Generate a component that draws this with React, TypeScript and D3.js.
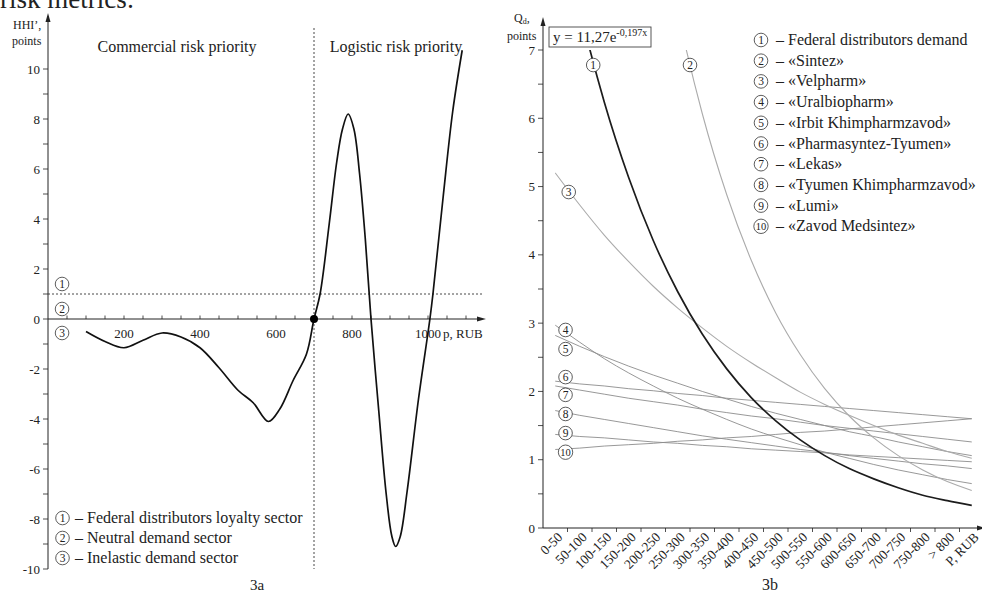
import React from 'react';
import * as d3 from 'd3';

// ---------- Panel 3a data ----------
const hhiPrice = [100, 150, 200, 250, 300, 350, 400, 450, 500, 540, 580, 610, 645, 680, 700, 716, 740, 760, 775, 790, 805, 820, 835, 850, 870, 890, 905, 915, 927, 945, 975, 1005, 1013, 1040, 1065, 1090];
const hhiValue = [-0.5, -0.9, -1.15, -0.85, -0.56, -0.72, -1.15, -1.95, -2.85, -3.35, -4.1, -3.6, -2.46, -1.41, 0, 1, 3.8, 6.3, 7.6, 8.2, 7.6, 5.8, 3.2, 0, -3.6, -7.0, -8.7, -9.1, -8.7, -6.9, -3.2, 0, 1, 4.9, 8.3, 10.75];
const leftXTickLabels = [200, 400, 600, 800, 1000];
const leftYTickLabels = [-10, -8, -6, -4, -2, 0, 2, 4, 6, 8, 10];
const sectorLabels = ['Federal distributors loyalty sector', 'Neutral demand sector', 'Inelastic demand sector'];
const sectorMarkValues = [1.4, 0.4, -0.56];
const loyaltyLevel = 1;
const breakPrice = 700;

// ---------- Panel 3b data ----------
const priceBands = ['0-50', '50-100', '100-150', '150-200', '200-250', '250-300', '300-350', '350-400', '400-450', '450-500', '500-550', '550-600', '600-650', '650-700', '700-750', '750-800', '> 800', 'P, RUB'];
const rightYTickLabels = [0, 1, 2, 3, 4, 5, 6, 7];
const seriesNames = ['Federal distributors demand', '«Sintez»', '«Velpharm»', '«Uralbiopharm»', '«Irbit Khimpharmzavod»', '«Pharmasyntez-Tyumen»', '«Lekas»', '«Tyumen Khimpharmzavod»', '«Lumi»', '«Zavod Medsintez»'];
const federalDemand = [9.25, 7.6, 6.24, 5.13, 4.21, 3.46, 2.84, 2.33, 1.91, 1.57, 1.29, 1.06, 0.87, 0.72, 0.59, 0.48, 0.4, 0.33];
const sintez = [22.5, 18.1, 14.55, 11.7, 9.4, 7.56, 6.07, 4.88, 3.92, 3.15, 2.54, 2.04, 1.64, 1.32, 1.06, 0.85, 0.68, 0.55];
const velpharm = [5.2, 4.73, 4.29, 3.9, 3.54, 3.22, 2.93, 2.66, 2.42, 2.2, 1.99, 1.81, 1.65, 1.5, 1.36, 1.24, 1.12, 1.02];
const uralbiopharm = [2.97, 2.72, 2.48, 2.27, 2.08, 1.9, 1.74, 1.59, 1.45, 1.33, 1.22, 1.11, 1.02, 0.93, 0.85, 0.78, 0.71, 0.65];
const irbit = [2.82, 2.66, 2.51, 2.37, 2.24, 2.12, 2.0, 1.89, 1.78, 1.68, 1.59, 1.5, 1.41, 1.34, 1.26, 1.19, 1.12, 1.06];
const pharmasyntez = [2.15, 2.11, 2.08, 2.04, 2.01, 1.97, 1.94, 1.9, 1.87, 1.84, 1.81, 1.78, 1.75, 1.72, 1.69, 1.66, 1.63, 1.6];
const lekas = [2.08, 2.02, 1.96, 1.9, 1.85, 1.8, 1.74, 1.69, 1.64, 1.6, 1.55, 1.5, 1.46, 1.42, 1.38, 1.34, 1.3, 1.26];
const tyumenKhim = [1.72, 1.65, 1.59, 1.53, 1.47, 1.41, 1.35, 1.3, 1.25, 1.2, 1.15, 1.11, 1.06, 1.02, 0.98, 0.94, 0.91, 0.87];
const lumi = [1.37, 1.34, 1.32, 1.29, 1.26, 1.24, 1.21, 1.19, 1.16, 1.14, 1.12, 1.1, 1.07, 1.05, 1.03, 1.01, 0.99, 0.97];
const medsintez = [1.15, 1.17, 1.2, 1.22, 1.24, 1.27, 1.29, 1.32, 1.34, 1.37, 1.4, 1.42, 1.45, 1.48, 1.51, 1.54, 1.57, 1.6];
const seriesValues = [federalDemand, sintez, velpharm, uralbiopharm, irbit, pharmasyntez, lekas, tyumenKhim, lumi, medsintez];
const markBandPos = [2.05, 6.0, 1.05, 0.92, 0.92, 0.92, 0.92, 0.92, 0.92, 0.92];
const markValues = [6.78, 6.78, 4.92, 2.9, 2.62, 2.21, 1.95, 1.67, 1.39, 1.11];

const FONT = "'Liberation Serif', 'Times New Roman', serif";
const INK = '#222';

function Circled({ x, y, n }: { x: number; y: number; n: number }) {
  return (
    <g transform={`translate(${x},${y})`}>
      <circle r={n >= 10 ? 7.2 : 6.8} fill="#fff" stroke="#333" strokeWidth={0.8} />
      <text textAnchor="middle" dy={4} fontSize={n >= 10 ? 10.5 : 11.5} fontFamily={FONT} fill={INK}>{n}</text>
    </g>
  );
}

export default function App() {
  const xL = d3.scaleLinear().domain([0, 1000]).range([48, 428]);
  const yL = d3.scaleLinear().domain([-10, 10]).range([569, 69]);
  const pts: [number, number][] = hhiPrice.map((p, i) => [p, hhiValue[i]]);
  const lineL = d3.line<[number, number]>().x(d => xL(d[0])).y(d => yL(d[1])).curve(d3.curveCatmullRom.alpha(0.5));
  const axL = xL(0);
  const ay0 = yL(0);
  const xMinorTicks = d3.range(50, 1101, 50);
  const yMinorTicks = d3.range(-10, 11, 1);

  const xB = d3.scaleBand().domain(priceBands).range([543, 984]).padding(0);
  const xPos = d3.scaleLinear().domain([0, priceBands.length]).range([543, 984]);
  const yR = d3.scaleLinear().domain([0, 7]).range([528, 50]);
  const lineR = d3.line<number>().x((d, i) => (xB(priceBands[i]) as number) + xB.bandwidth() / 2).y(d => yR(d)).curve(d3.curveMonotoneX);
  const rx0 = xPos(0);
  const ry0 = yR(0);
  const yRTicks = d3.range(0, 7.01, 0.5);

  const seriesStyle = (i: number) =>
    i === 0 ? { stroke: '#1c1c1c', width: 1.7 } : i <= 2 ? { stroke: '#ababab', width: 1.1 } : { stroke: '#8c8c8c', width: 0.9 };

  return (
    <svg width={982} height={593} style={{ position: 'absolute', left: 0, top: 0, background: '#fff' }} fontFamily={FONT}>
      <defs>
        <clipPath id="plotR">
          <rect x={rx0} y={yR(7)} width={984 - rx0} height={ry0 - yR(7)} />
        </clipPath>
      </defs>
      <rect x={0} y={0} width={982} height={593} fill="#fff" />
      <text x={0} y={8} fontSize={27} fill={INK}>risk metrics:</text>

      {/* ================= LEFT PANEL 3a ================= */}
      <line x1={axL} x2={axL} y1={yL(-10)} y2={16} stroke={INK} strokeWidth={1} />
      <path d={`M${axL - 2.5},${22} L${axL},${13} L${axL + 2.5},${22} Z`} fill={INK} />
      {yMinorTicks.map(v => (
        <line key={'yt' + v} x1={axL - 5} x2={axL} y1={yL(v)} y2={yL(v)} stroke={INK} strokeWidth={0.8} />
      ))}
      {leftYTickLabels.map(v => (
        <text key={'yl' + v} x={axL - 8} y={yL(v) + 4.5} textAnchor="end" fontSize={13} fill={INK}>{v}</text>
      ))}
      <text x={13} y={29} fontSize={12} fill={INK}>HHI’,</text>
      <text x={12} y={45} fontSize={12} fill={INK}>points</text>

      <line x1={axL} x2={480} y1={ay0} y2={ay0} stroke={INK} strokeWidth={1} />
      <path d={`M${477},${ay0 - 2.5} L${486},${ay0} L${477},${ay0 + 2.5} Z`} fill={INK} />
      {xMinorTicks.map(v => (
        <line key={'xt' + v} x1={xL(v)} x2={xL(v)} y1={ay0 - 3.5} y2={ay0} stroke={INK} strokeWidth={0.8} />
      ))}
      {leftXTickLabels.map(v => (
        <text key={'xl' + v} x={xL(v)} y={ay0 + 19} textAnchor="middle" fontSize={13} fill={INK}>{v}</text>
      ))}
      <text x={443} y={ay0 + 19} fontSize={13} fill={INK}>p, RUB</text>

      <line x1={axL} x2={483} y1={yL(loyaltyLevel)} y2={yL(loyaltyLevel)} stroke="#333" strokeWidth={0.9} strokeDasharray="2,2" />
      <line x1={xL(breakPrice)} x2={xL(breakPrice)} y1={28} y2={yL(-10)} stroke="#333" strokeWidth={0.9} strokeDasharray="2,2" />

      <text x={177} y={52} textAnchor="middle" fontSize={16} fill={INK}>Commercial risk priority</text>
      <text x={396} y={52} textAnchor="middle" fontSize={16} fill={INK}>Logistic risk priority</text>

      <path d={lineL(pts) || ''} fill="none" stroke="#111" strokeWidth={1.7} />
      <circle cx={xL(breakPrice)} cy={yL(0)} r={4} fill="#000" />

      {sectorMarkValues.map((v, i) => (
        <Circled key={'sm' + i} x={xL(37)} y={yL(v)} n={i + 1} />
      ))}

      {sectorLabels.map((s, i) => (
        <g key={'lg' + i}>
          <Circled x={62.5} y={518 + i * 20} n={i + 1} />
          <text x={75} y={518 + i * 20 + 5} fontSize={16} fill={INK}>– {s}</text>
        </g>
      ))}
      <text x={257} y={590} textAnchor="middle" fontSize={15} fill={INK}>3a</text>

      {/* ================= RIGHT PANEL 3b ================= */}
      <line x1={rx0} x2={rx0} y1={ry0} y2={21} stroke={INK} strokeWidth={1} />
      <path d={`M${rx0 - 2.5},${26} L${rx0},${17} L${rx0 + 2.5},${26} Z`} fill={INK} />
      {yRTicks.map(v => (
        <line key={'ryt' + v} x1={rx0 - 5} x2={rx0} y1={yR(v)} y2={yR(v)} stroke={INK} strokeWidth={0.8} />
      ))}
      {rightYTickLabels.map(v => (
        <text key={'ryl' + v} x={rx0 - 8} y={yR(v) + 4.5} textAnchor="end" fontSize={13} fill={INK}>{v}</text>
      ))}
      <text x={514} y={22} fontSize={12} fill={INK}>Q<tspan fontSize={8} dy={2}>d</tspan><tspan dy={-2}>,</tspan></text>
      <text x={507} y={40} fontSize={12} fill={INK}>points</text>

      <line x1={rx0} x2={980} y1={ry0} y2={ry0} stroke={INK} strokeWidth={1} />
      <path d={`M${977},${ry0 - 2.5} L${986},${ry0} L${977},${ry0 + 2.5} Z`} fill={INK} />
      {priceBands.slice(1).map(b => (
        <line key={'rxt' + b} x1={xB(b)} x2={xB(b)} y1={ry0} y2={ry0 + 4} stroke={INK} strokeWidth={0.8} />
      ))}
      {priceBands.map(b => {
        const cx = (xB(b) as number) + xB.bandwidth() / 2 + 8;
        const cy = ry0 + 10;
        return (
          <text key={'rxl' + b} x={cx} y={cy} textAnchor="end" fontSize={13.5} fill={INK} transform={`rotate(-45 ${cx} ${cy})`}>{b}</text>
        );
      })}

      <g clipPath="url(#plotR)">
        {seriesValues.map((vals, i) => {
          const st = seriesStyle(i);
          return <path key={'s' + i} d={lineR(vals) || ''} fill="none" stroke={st.stroke} strokeWidth={st.width} />;
        }).reverse()}
      </g>

      {markValues.map((v, i) => (
        <Circled key={'rm' + i} x={xPos(markBandPos[i])} y={yR(v)} n={i + 1} />
      ))}

      <rect x={549} y={27} width={102} height={20} fill="#fff" stroke="#444" strokeWidth={0.9} />
      <text x={553} y={42} fontSize={15} fill={INK}>y = 11,27e<tspan fontSize={10} dy={-6}>-0,197x</tspan></text>

      {seriesNames.map((s, i) => (
        <g key={'rl' + i}>
          <Circled x={761} y={40 + i * 20.7} n={i + 1} />
          <text x={776} y={40 + i * 20.7 + 5} fontSize={16} fill={INK}>– {s}</text>
        </g>
      ))}
      <text x={770} y={590} textAnchor="middle" fontSize={16} fill={INK}>3b</text>
    </svg>
  );
}
